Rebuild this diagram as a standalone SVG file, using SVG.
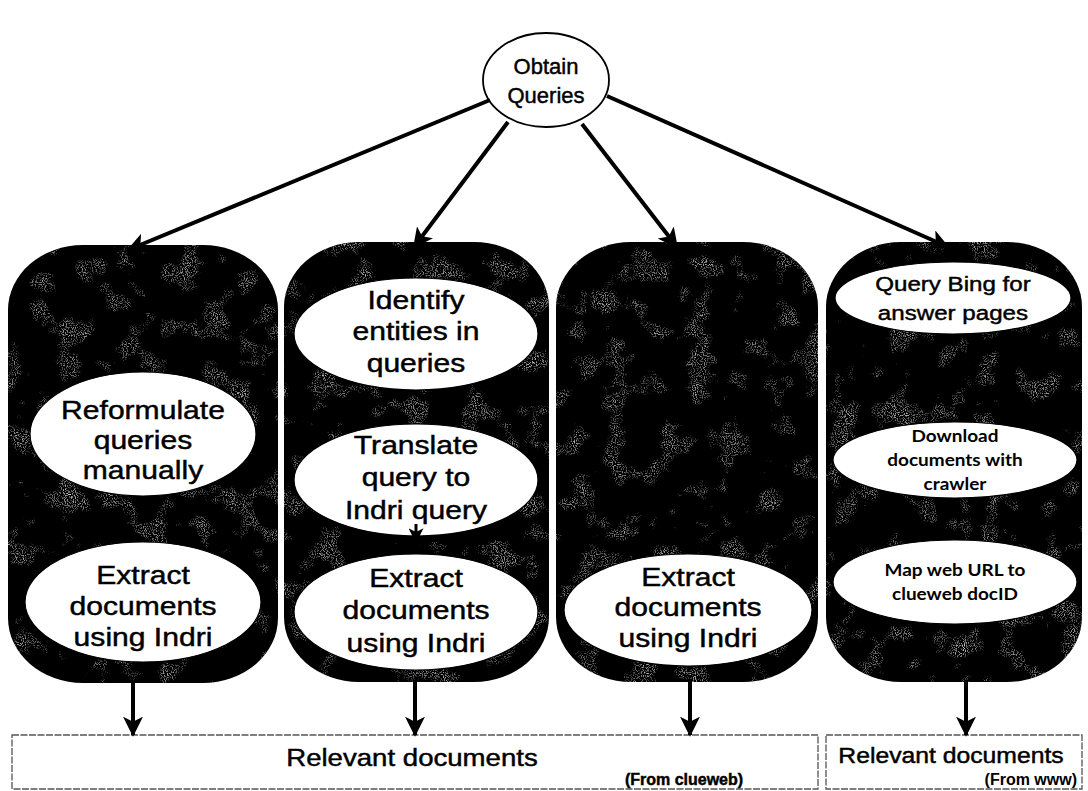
<svg xmlns="http://www.w3.org/2000/svg" width="1088" height="791" viewBox="0 0 1088 791">
<defs>
<style>
.col{fill:#060606;filter:url(#grain)}
.ell{fill:#ffffff;stroke:#000;stroke-width:1.2}
.t{font-family:"Liberation Sans",Arial,sans-serif;fill:#000;text-anchor:middle;stroke:#000;stroke-width:0.45}
.big{font-size:25.5px}
.mid{font-size:21px}
.sm{font-family:"Lato","Open Sans",sans-serif;font-size:16.5px;fill:#000;text-anchor:middle;font-weight:bold}
.conn{stroke:#000;stroke-width:4;fill:none;marker-end:url(#ah)}
.box{fill:#fff;stroke:#555;stroke-width:1.3;stroke-dasharray:7 1.5}
</style>
<marker id="ah" viewBox="0 0 12 12" refX="11" refY="6" markerWidth="5" markerHeight="5" orient="auto" markerUnits="strokeWidth">
<path d="M0,0 L12,6 L0,12 L3,6 Z" fill="#000"/>
</marker>
<filter id="grain" x="0" y="0" width="100%" height="100%">
<feTurbulence type="fractalNoise" baseFrequency="0.035" numOctaves="3" seed="11" result="coarse"/>
<feColorMatrix in="coarse" type="matrix" values="0 0 0 0 0  0 0 0 0 0  0 0 0 0 0  3 0 0 0 -1.7" result="mask"/>
<feTurbulence type="fractalNoise" baseFrequency="0.9" numOctaves="1" seed="4" result="fine"/>
<feColorMatrix in="fine" type="matrix" values="0 0 0 0 0.6  0 0 0 0 0.6  0 0 0 0 0.6  5 0 0 0 -2.6" result="dots"/>
<feComposite in="dots" in2="mask" operator="in" result="sp"/>
<feComposite in="sp" in2="SourceGraphic" operator="in" result="s"/>
<feMerge><feMergeNode in="SourceGraphic"/><feMergeNode in="s"/></feMerge>
</filter>
</defs>
<rect width="1088" height="791" fill="#fff"/>

<g id="obtain">
<ellipse cx="546" cy="80" rx="63" ry="47" fill="#fff" stroke="#000" stroke-width="1.8"/>
<text class="t" x="546" y="74" font-size="22" stroke-width="0.3">Obtain</text>
<text class="t" x="546" y="103" font-size="22" stroke-width="0.3">Queries</text>
</g>

<g id="col1">
<rect class="col" x="8" y="245" width="270" height="438" rx="75" ry="65"/>
<ellipse class="ell" cx="143" cy="434" rx="113" ry="62"/>
<ellipse class="ell" cx="143" cy="602" rx="118" ry="60"/>
<g transform="matrix(1.18 0 0 1 -25.74 0)">
<text class="t big" x="143" y="419">Reformulate</text>
<text class="t big" x="143" y="449">queries</text>
<text class="t big" x="143" y="479">manually</text>
<text class="t big" x="143" y="584">Extract</text>
<text class="t big" x="143" y="615">documents</text>
<text class="t big" x="143" y="646">using Indri</text>
</g>
</g>

<g id="col2">
<rect class="col" x="284" y="242" width="265" height="440" rx="75" ry="65"/>
<ellipse class="ell" cx="416" cy="334" rx="122" ry="56"/>
<ellipse class="ell" cx="416" cy="480" rx="122" ry="56"/>
<ellipse class="ell" cx="416" cy="612" rx="122" ry="58"/>
<g transform="matrix(1.18 0 0 1 -74.88 0)">
<text class="t big" x="416" y="309">Identify</text>
<text class="t big" x="416" y="340">entities in</text>
<text class="t big" x="416" y="372">queries</text>
<text class="t big" x="416" y="454">Translate</text>
<text class="t big" x="416" y="486">query to</text>
<text class="t big" x="416" y="519">Indri query</text>
<text class="t big" x="416" y="587">Extract</text>
<text class="t big" x="416" y="619">documents</text>
<text class="t big" x="416" y="652">using Indri</text>
</g>
</g>

<g id="col3">
<rect class="col" x="556" y="242" width="262" height="440" rx="75" ry="65"/>
<ellipse class="ell" cx="688" cy="610" rx="124" ry="56"/>
<g transform="matrix(1.18 0 0 1 -123.84 0)">
<text class="t big" x="688" y="586">Extract</text>
<text class="t big" x="688" y="616">documents</text>
<text class="t big" x="688" y="647">using Indri</text>
</g>
</g>

<g id="col4">
<rect class="col" x="826" y="242" width="256" height="440" rx="75" ry="65"/>
<ellipse class="ell" cx="953" cy="298" rx="118" ry="36"/>
<ellipse class="ell" cx="955" cy="460" rx="122" ry="38"/>
<ellipse class="ell" cx="955" cy="582" rx="122" ry="42"/>
<g transform="matrix(1.15 0 0 1 -142.95 0)">
<text class="t mid" x="953" y="291">Query  Bing for</text>
<text class="t mid" x="953" y="320">answer pages</text>
</g>
<g transform="matrix(1.15 0 0 1 -143.25 0)">
<text class="sm" x="955" y="442">Download</text>
<text class="sm" x="955" y="466">documents with</text>
<text class="sm" x="955" y="490">crawler</text>
<text class="sm" x="955" y="576">Map web URL to</text>
<text class="sm" x="955" y="600">clueweb docID</text>
</g>
</g>

<g id="box1">
<rect class="box" x="12" y="735" width="806" height="54"/>
<text class="t" x="412" y="766" font-size="24" transform="matrix(1.15 0 0 1 -61.8 0)">Relevant documents</text>
<text class="t" x="684" y="785" font-size="16" font-weight="bold" stroke-width="0">(From clueweb)</text>
</g>

<g id="box2">
<rect class="box" x="826" y="735" width="256" height="54"/>
<text class="t" x="951" y="763" font-size="21.5" transform="matrix(1.15 0 0 1 -142.65 0)">Relevant  documents</text>
<text x="1077" y="785" font-family="Liberation Sans,Arial,sans-serif" font-size="16" font-weight="bold" text-anchor="end">(From www)</text>
</g>

<g id="connectors">
<line class="conn" x1="490" y1="100" x2="128" y2="250"/>
<line class="conn" x1="508" y1="122" x2="414" y2="247"/>
<line class="conn" x1="582" y1="124" x2="677" y2="247"/>
<line class="conn" x1="607" y1="96" x2="948" y2="247"/>
<line stroke="#000" stroke-width="3" x1="416" y1="524" x2="416" y2="542" marker-end="url(#ah)"/>
<line class="conn" x1="133" y1="680" x2="133" y2="735"/>
<line class="conn" x1="415" y1="680" x2="415" y2="735"/>
<line class="conn" x1="690" y1="680" x2="690" y2="735"/>
<line class="conn" x1="966" y1="680" x2="966" y2="735"/>
</g>
</svg>
